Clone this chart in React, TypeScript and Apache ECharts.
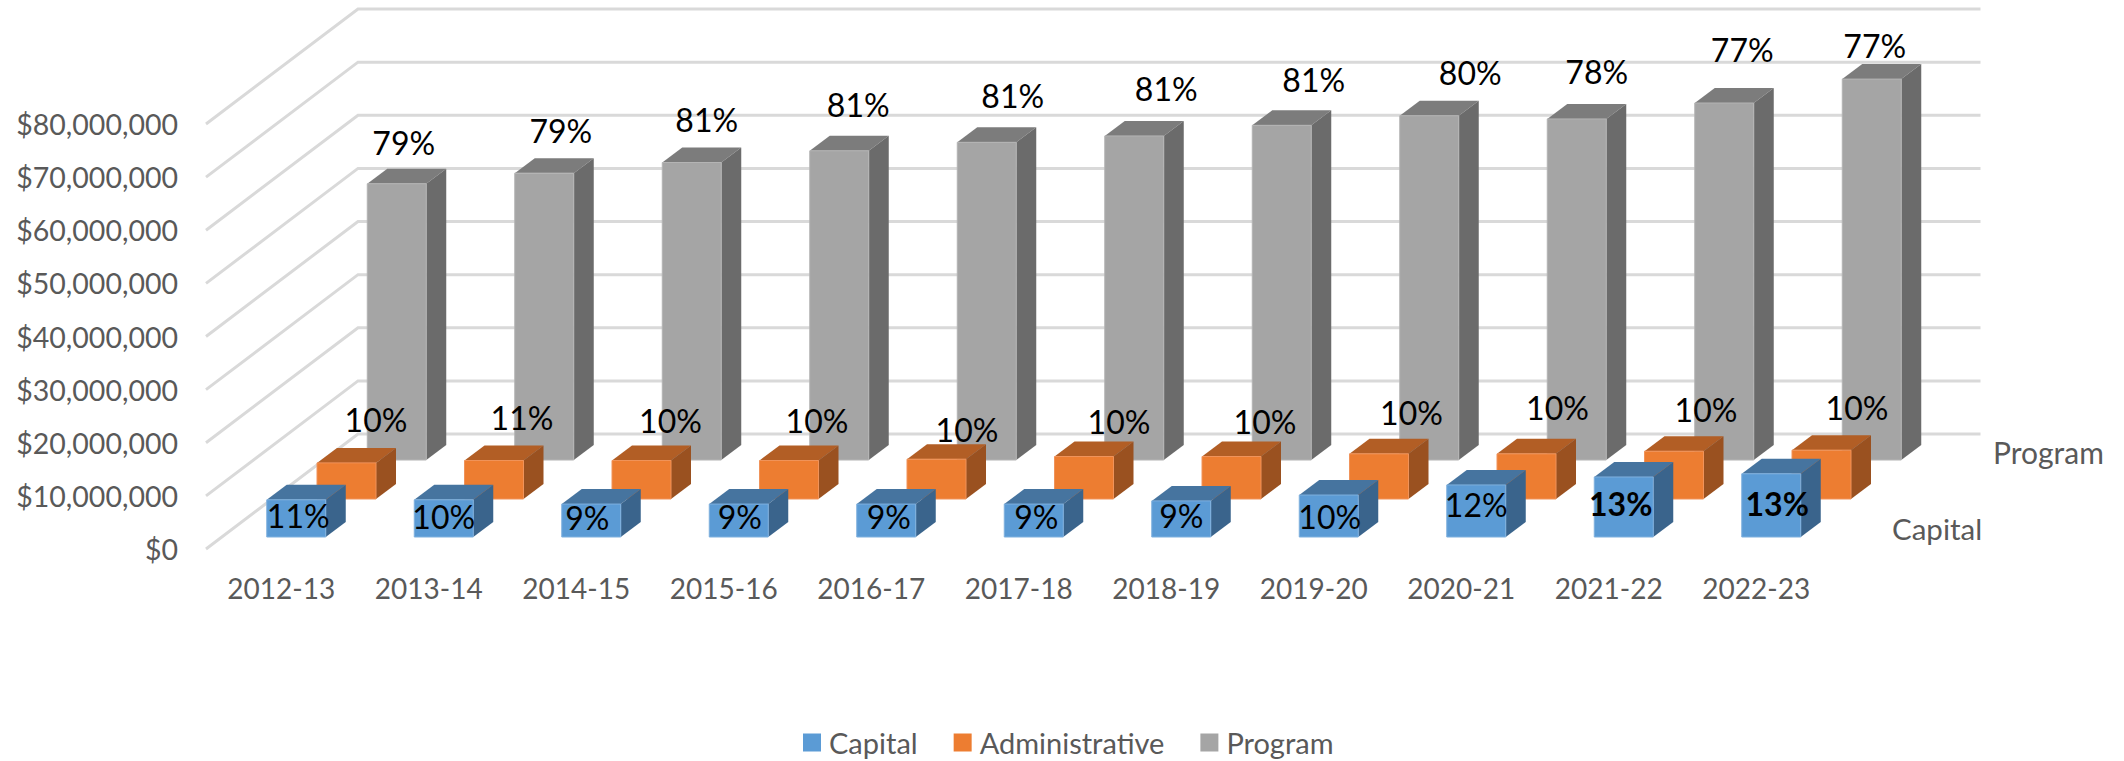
import React, { useEffect, useRef } from "react";
import * as echarts from "echarts";

const categories = ["2012-13", "2013-14", "2014-15", "2015-16", "2016-17", "2017-18", "2018-19", "2019-20", "2020-21", "2021-22", "2022-23"];
const capital = [7.0e6, 7.0e6, 6.2e6, 6.2e6, 6.2e6, 6.2e6, 6.8e6, 7.9e6, 9.8e6, 11.3e6, 11.9e6];
const administrative = [6.8e6, 7.25e6, 7.25e6, 7.25e6, 7.5e6, 8.0e6, 8.0e6, 8.5e6, 8.5e6, 9.0e6, 9.2e6];
const program = [52.0e6, 54.0e6, 56.0e6, 58.2e6, 59.8e6, 61.0e6, 63.0e6, 64.8e6, 64.2e6, 67.2e6, 71.7e6];
const capitalPct = ["11%", "10%", "9%", "9%", "9%", "9%", "9%", "10%", "12%", "13%", "13%"];
const administrativePct = ["10%", "11%", "10%", "10%", "10%", "10%", "10%", "10%", "10%", "10%", "10%"];
const programPct = ["79%", "79%", "81%", "81%", "81%", "81%", "81%", "80%", "78%", "77%", "77%"];
const valueTicks = [0, 10e6, 20e6, 30e6, 40e6, 50e6, 60e6, 70e6, 80e6];
const depthLabels = ["Program", "Capital"];

// layout of the oblique projection
const DEPTH_X = 152;
const DEPTH_Y = 115;
const BAR_W = 59;
const BAR_DX = 20;
const BAR_DY = 15;
const FONT = "Lato, 'Open Sans', sans-serif";

// hand-placed data label nudges (px from the top-centre of a bar's front face)
const capitalNudge = [[2, 16], [0, 17], [-4, 13], [1, 12], [2.5, 12], [2.5, 12], [0, 15], [1, 21], [0, 20], [-3, 27], [6, 30]];
const adminNudge = [[29.5, -43], [28, -42.5], [29, -39.5], [28, -39.5], [30.5, -30], [35, -35.5], [33.5, -35.5], [32.5, -41], [31, -46], [32, -42], [35.5, -43]];
const programNudge = [[7, -41], [16.6, -43], [15, -43], [19, -46], [26, -47], [32, -47], [32, -46], [41, -43], [20, -47], [18, -54], [3, -34]];

function barSeries(
  name: string,
  values: number[],
  pct: string[],
  nudge: number[][],
  rowX: number,
  rowY: number,
  colors: { front: string; top: string; side: string; edge: string },
  boldFrom: number,
  z: number,
) {
  return {
    type: "custom",
    name,
    z,
    itemStyle: { color: colors.front },
    encode: { x: 0, y: 1 },
    data: values.map((v, i) => [i, v]),
    renderItem: (_p: any, api: any) => {
      const i = api.value(0);
      const v = api.value(1);
      const t = api.coord([i, v]);
      const b = api.coord([i, 0]);
      const x0 = t[0] + rowX - BAR_W / 2;
      const x1 = x0 + BAR_W;
      const yt = t[1] - rowY;
      const yb = b[1] - rowY;
      return {
        type: "group",
        children: [
          { type: "polygon", shape: { points: [[x0, yt], [x1, yt], [x1 + BAR_DX, yt - BAR_DY], [x0 + BAR_DX, yt - BAR_DY]] }, style: { fill: colors.top } },
          { type: "polygon", shape: { points: [[x1, yt], [x1, yb], [x1 + BAR_DX, yb - BAR_DY], [x1 + BAR_DX, yt - BAR_DY]] }, style: { fill: colors.side } },
          { type: "rect", shape: { x: x0, y: yt, width: BAR_W, height: yb - yt }, style: { fill: colors.front, stroke: colors.edge, lineWidth: 1 } },
          {
            type: "text",
            z2: 10,
            style: {
              x: t[0] + rowX + nudge[i][0],
              y: yt + nudge[i][1],
              text: pct[i],
              fill: "#000000",
              fontFamily: FONT,
              fontSize: 32,
              fontWeight: i >= boldFrom ? "bold" : "normal",
              textAlign: "center",
              textVerticalAlign: "middle",
            },
          },
        ],
      };
    },
  };
}

export default function App() {
  const ref = useRef<HTMLDivElement>(null);
  useEffect(() => {
    const chart = echarts.init(ref.current!, null, { renderer: "svg" });
    chart.setOption({
      animation: false,
      backgroundColor: "#ffffff",
      grid: { left: 206, top: 124, width: 1622.5, height: 425, containLabel: false },
      xAxis: {
        type: "category",
        data: categories,
        axisLine: { show: false },
        axisTick: { show: false },
        axisLabel: { color: "#595959", fontFamily: FONT, fontSize: 28, margin: 25, padding: [0, 0, 0, 3] },
      },
      yAxis: {
        type: "value",
        min: 0,
        max: 80000000,
        interval: 10000000,
        axisLine: { show: false },
        axisTick: { show: false },
        splitLine: { show: false },
        axisLabel: {
          color: "#595959",
          fontFamily: FONT,
          fontSize: 28.5,
          margin: 28,
          formatter: (v: number) => "$" + v.toLocaleString("en-US"),
        },
      },
      legend: {
        data: ["Capital", "Administrative", "Program"],
        left: 803,
        top: 728,
        padding: 0,
        itemWidth: 18,
        itemHeight: 18,
        itemGap: 36,
        icon: "rect",
        textStyle: { color: "#595959", fontFamily: FONT, fontSize: 29, padding: [0, 0, 0, 3] },
      },
      graphic: [
        { type: "text", left: 1993, top: 437, style: { text: depthLabels[0], fill: "#595959", fontFamily: FONT, fontSize: 30 } },
        { type: "text", left: 1892, top: 513, style: { text: depthLabels[1], fill: "#595959", fontFamily: FONT, fontSize: 29.5 } },
      ],
      series: [
        {
          type: "custom",
          name: "walls",
          z: 1,
          silent: true,
          encode: { x: 0, y: 1 },
          data: valueTicks.map((v) => [0, v]),
          renderItem: (_p: any, api: any) => {
            const p = api.coord([0, api.value(1)]);
            const band = api.size([1, 0])[0];
            const x = p[0] - band / 2;
            return {
              type: "polyline",
              shape: {
                points: [
                  [x, p[1]],
                  [x + DEPTH_X, p[1] - DEPTH_Y],
                  [x + DEPTH_X + band * categories.length, p[1] - DEPTH_Y],
                ],
              },
              style: { stroke: "#D9D9D9", lineWidth: 3, fill: "none" },
            };
          },
        },
        barSeries("Program", program, programPct, programNudge, 117, 89, { front: "#A5A5A5", top: "#7C7C7C", side: "#6B6B6B", edge: "#B4B4B4" }, 99, 2),
        barSeries("Administrative", administrative, administrativePct, adminNudge, 66.75, 50, { front: "#ED7D31", top: "#B25E25", side: "#9A5120", edge: "#F0935A" }, 99, 3),
        barSeries("Capital", capital, capitalPct, capitalNudge, 16.5, 12, { front: "#5B9BD5", top: "#46749F", side: "#3A648C", edge: "#7FB0DE" }, 9, 4),
      ],
    });
    return () => chart.dispose();
  }, []);
  return <div ref={ref} style={{ position: "absolute", left: 0, top: 0, width: 2124, height: 761 }} />;
}
